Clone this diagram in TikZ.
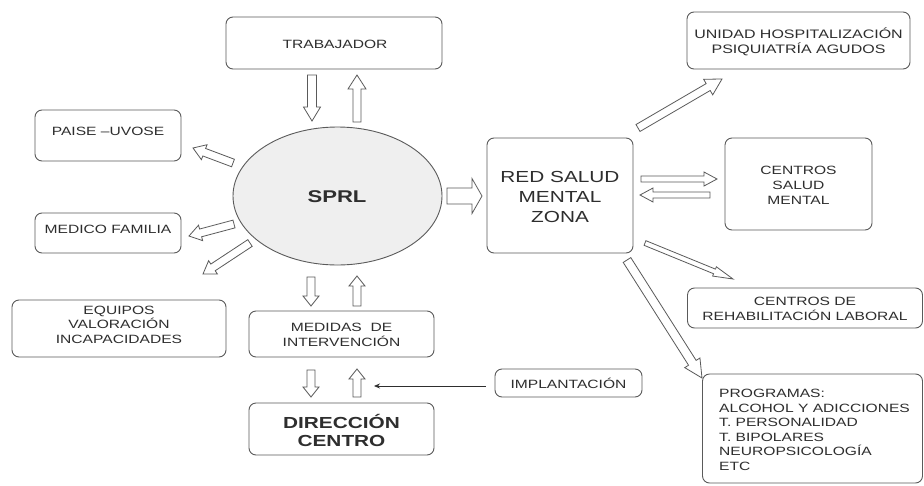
\documentclass[tikz,border=0pt]{standalone}
\usepackage{fontspec}
\setmainfont[FakeStretch=1.3]{Liberation Sans}
\usetikzlibrary{calc,arrows.meta,shapes.geometric}
\definecolor{linegray}{HTML}{5A5A5A}
\definecolor{txtgray}{HTML}{2E2E2E}
\definecolor{ellfill}{HTML}{EFEFEF}
\tikzset{
  box/.style={draw=linegray, line width=0.9pt, rounded corners=7pt, inner sep=0pt},
  txt/.style={text=txtgray, align=center, inner sep=0pt, font=\fontsize{12}{14.4}\selectfont},
  bigtxt/.style={text=txtgray, align=center, inner sep=0pt, font=\fontsize{16}{19}\selectfont},
  blockarrow/.style={draw=linegray, fill=white, line width=0.8pt},
  thinarrow/.style={draw=txtgray, line width=0.8pt, -{Stealth[length=6pt,width=5pt]}}
}
% #1 name, #2 start, #3 tip, #4 shaft half width, #5 head half width, #6 head length
\newcommand\barrow[6]{%
  \coordinate (#1s) at #2;
  \coordinate (#1e) at #3;
  \coordinate (#1h) at ($(#1e)!#6pt!(#1s)$);
  \draw[blockarrow] ($(#1s)!#4pt!90:(#1e)$) -- ($(#1h)!#4pt!-90:(#1s)$) -- ($(#1h)!#5pt!-90:(#1s)$) -- (#1e) -- ($(#1h)!#5pt!90:(#1s)$) -- ($(#1h)!#4pt!90:(#1s)$) -- ($(#1s)!#4pt!-90:(#1e)$) -- cycle;
}
\begin{document}
\begin{tikzpicture}[x=1pt,y=-1pt]
\useasboundingbox[fill=white] (0,0) rectangle (924,485);

% boxes
\node[box, minimum width=216pt, minimum height=52pt] (trab) at (334,43) {};
\node[txt] (ttrab) at (335,44) {TRABAJADOR};

\node[box, minimum width=146pt, minimum height=51pt] (paise) at (108,135.5) {};
\node[txt] (tpaise) at (108,131) {PAISE –UVOSE};

\node[box, minimum width=146pt, minimum height=40pt] (medico) at (108,233) {};
\node[txt] (tmedico) at (108,229.5) {MEDICO FAMILIA};

\node[box, minimum width=214pt, minimum height=57pt] (equipos) at (119,328.5) {};
\node[txt] (tequipos) at (119,324.5) {EQUIPOS\\VALORACIÓN\\INCAPACIDADES};

\node[box, minimum width=185pt, minimum height=46pt] (medidas) at (341.5,334) {};
\node[txt] (tmedidas) at (341.5,335) {MEDIDAS \ DE\\INTERVENCIÓN};

\node[box, minimum width=185pt, minimum height=52pt] (direccion) at (341.5,429) {};
\node[bigtxt, font=\fontsize{16}{18}\bfseries] (tdireccion) at (341.5,430) {DIRECCIÓN\\CENTRO};

\node[box, minimum width=146pt, minimum height=115pt] (red) at (560,195.5) {};
\node[bigtxt, font=\fontsize{16}{20}\selectfont] (tred) at (560,197) {RED SALUD\\MENTAL\\ZONA};

\node[box, minimum width=223pt, minimum height=57pt] (unidad) at (798.5,40.5) {};
\node[txt, font=\fontsize{12.3}{15}\selectfont] (tunidad) at (798.5,41.5) {UNIDAD HOSPITALIZACIÓN\\PSIQUIATRÍA AGUDOS};

\node[box, minimum width=147pt, minimum height=92pt] (csm) at (798.5,184) {};
\node[txt, font=\fontsize{12}{15}\selectfont] (tcsm) at (798.5,185.5) {CENTROS\\SALUD\\MENTAL};

\node[box, minimum width=235pt, minimum height=40pt] (rehab) at (805,308) {};
\node[txt] (trehab) at (805,309) {CENTROS DE\\REHABILITACIÓN LABORAL};

\node[box, minimum width=147pt, minimum height=28pt] (impl) at (568.5,383) {};
\node[txt] (timpl) at (568.5,383.5) {IMPLANTACIÓN};

\node[box, minimum width=220pt, minimum height=109pt] (prog) at (812.5,428.5) {};
\node[txt, align=left, anchor=north west, font=\fontsize{12}{14.6}\selectfont] (tprog) at (719,389) {PROGRAMAS:\\ALCOHOL Y ADICCIONES\\T. PERSONALIDAD\\T. BIPOLARES\\NEUROPSICOLOGÍA\\ETC};

% central ellipse
\node[ellipse, draw=linegray, fill=ellfill, line width=0.9pt, minimum width=209pt, minimum height=138pt, inner sep=0pt] (sprl) at (337.5,196) {};
\node[text=txtgray, inner sep=0pt, font=\fontsize{17}{20}\bfseries] (tsprl) at (337,197) {SPRL};

% block arrows
\barrow{a1}{(312,75)}{(312,121)}{4.5}{8.5}{14}
\barrow{a2}{(357,122)}{(357,75)}{4}{9}{14}
\barrow{a3}{(233,163)}{(193,148)}{4}{8}{12}
\barrow{a4}{(234,224)}{(189,236)}{4}{8}{12}
\barrow{a5}{(250,243)}{(203,274)}{4}{8}{12}
\barrow{a6}{(311,277)}{(311,306)}{4}{8}{10}
\barrow{a7}{(357,306)}{(357,276)}{4}{8}{10}
\barrow{a8}{(311,370)}{(311,397)}{4}{8}{10}
\barrow{a9}{(357,397)}{(357,369)}{4}{8}{10}
\barrow{a10}{(447,196)}{(482,196)}{8}{17.5}{10}
\barrow{a11}{(638,128)}{(722,79)}{4}{9}{16}
\barrow{a12}{(641,179)}{(717,179)}{3}{7}{13}
\barrow{a13}{(710,195)}{(640,195)}{3}{7}{13}
\barrow{a14}{(645,243)}{(733,279)}{2.5}{5}{20}
\barrow{a15}{(627,260)}{(702,378)}{4.5}{9}{18}

% implantation connector
\coordinate (impltip) at (374,386);
\draw[thinarrow] ([shift={(-9,3)}]impl.west) -- (impltip);
\end{tikzpicture}
\end{document}
